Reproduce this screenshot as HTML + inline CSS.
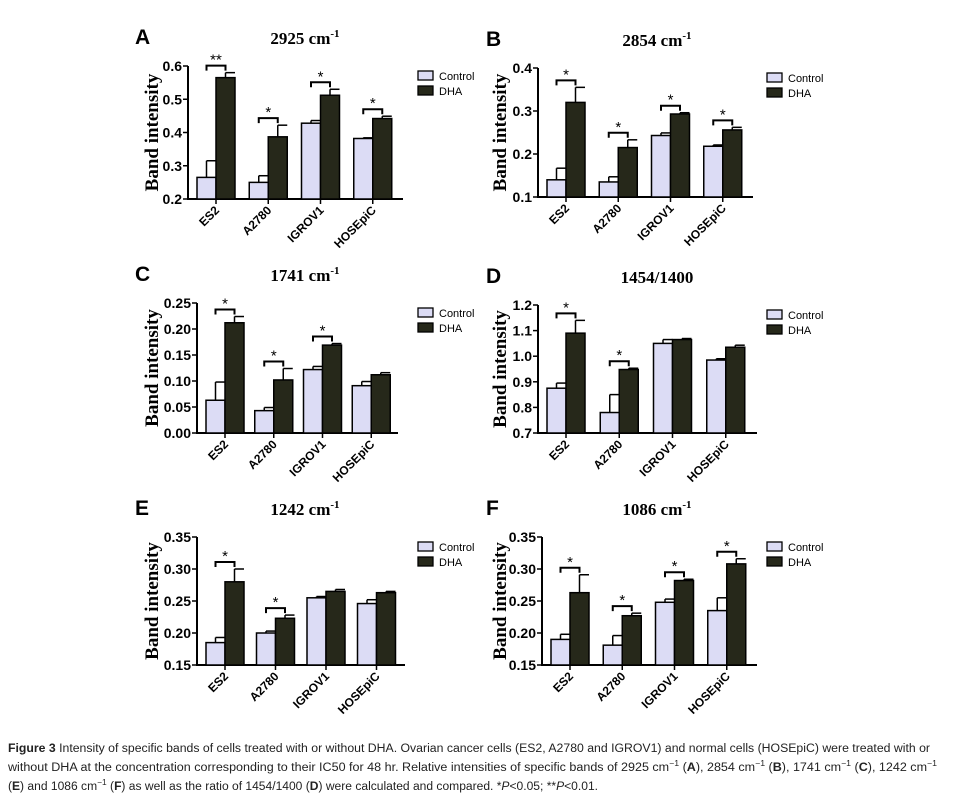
<!DOCTYPE html>
<html><head><meta charset="utf-8"><style>
body{margin:0;background:#fff;}
svg{display:block;}
</style></head><body>
<svg id="fig" width="961" height="804" viewBox="0 0 961 804" xmlns="http://www.w3.org/2000/svg">
<g id="panels"></g>
<g font-family="Liberation Sans, sans-serif" font-size="11.5" fill="#222">
<text x="8" y="752" textLength="922" lengthAdjust="spacingAndGlyphs"><tspan font-weight="bold">Figure 3</tspan> Intensity of specific bands of cells treated with or without DHA. Ovarian cancer cells (ES2, A2780 and IGROV1) and normal cells (HOSEpiC) were treated with or</text>
<text x="8" y="771" textLength="929" lengthAdjust="spacingAndGlyphs">without DHA at the concentration corresponding to their IC50 for 48 hr. Relative intensities of specific bands of 2925 cm<tspan dy="-5" font-size="8">−1</tspan><tspan dy="5"> (</tspan><tspan font-weight="bold">A</tspan>), 2854 cm<tspan dy="-5" font-size="8">−1</tspan><tspan dy="5"> (</tspan><tspan font-weight="bold">B</tspan>), 1741 cm<tspan dy="-5" font-size="8">−1</tspan><tspan dy="5"> (</tspan><tspan font-weight="bold">C</tspan>), 1242 cm<tspan dy="-5" font-size="8">−1</tspan></text>
<text x="8" y="790" textLength="590" lengthAdjust="spacingAndGlyphs">(<tspan font-weight="bold">E</tspan>) and 1086 cm<tspan dy="-5" font-size="8">−1</tspan><tspan dy="5"> (</tspan><tspan font-weight="bold">F</tspan>) as well as the ratio of 1454/1400 (<tspan font-weight="bold">D</tspan>) were calculated and compared. *<tspan font-style="italic">P</tspan>&lt;0.05; **<tspan font-style="italic">P</tspan>&lt;0.01.</text>
</g>
</svg>
<script>
const categories = ["ES2","A2780","IGROV1","HOSEpiC"];
const ctrlA = [0.265,0.25,0.428,0.382], ctrlErrA = [0.05,0.02,0.008,0.002];
const dhaA = [0.565,0.387,0.512,0.442], dhaErrA = [0.015,0.035,0.018,0.007];
const sigA = ["**","*","*","*"];
const ticksA = ["0.2","0.3","0.4","0.5","0.6"];
const ctrlB = [0.14,0.135,0.243,0.218], ctrlErrB = [0.027,0.012,0.006,0.003];
const dhaB = [0.32,0.215,0.293,0.256], dhaErrB = [0.035,0.018,0.003,0.006];
const sigB = ["*","*","*","*"];
const ticksB = ["0.1","0.2","0.3","0.4"];
const ctrlC = [0.063,0.043,0.122,0.091], ctrlErrC = [0.035,0.006,0.006,0.008];
const dhaC = [0.212,0.102,0.169,0.112], dhaErrC = [0.012,0.022,0.003,0.004];
const sigC = ["*","*","*",""];
const ticksC = ["0.00","0.05","0.10","0.15","0.20","0.25"];
const ctrlD = [0.875,0.78,1.05,0.985], ctrlErrD = [0.02,0.07,0.015,0.005];
const dhaD = [1.09,0.948,1.065,1.035], dhaErrD = [0.05,0.005,0.004,0.008];
const sigD = ["*","*","",""];
const ticksD = ["0.7","0.8","0.9","1.0","1.1","1.2"];
const ctrlE = [0.185,0.2,0.255,0.246], ctrlErrE = [0.008,0.003,0.002,0.006];
const dhaE = [0.28,0.223,0.265,0.263], dhaErrE = [0.02,0.005,0.003,0.002];
const sigE = ["*","*","",""];
const ticksE = ["0.15","0.20","0.25","0.30","0.35"];
const ctrlF = [0.19,0.181,0.248,0.235], ctrlErrF = [0.008,0.015,0.005,0.02];
const dhaF = [0.263,0.227,0.282,0.308], dhaErrF = [0.028,0.004,0.002,0.008];
const sigF = ["*","*","*","*"];
const ticksF = ["0.15","0.20","0.25","0.30","0.35"];

const NS="http://www.w3.org/2000/svg";
const root=document.getElementById('panels');
function mk(tag,attrs,parent,txt){const e=document.createElementNS(NS,tag);for(const k in attrs)e.setAttribute(k,attrs[k]);if(txt!==undefined)e.textContent=txt;parent.appendChild(e);return e;}

const panels=[
 {id:"a",L:"A",col:0,title:"2925 cm",sup:"-1",ax:188,right:403,top:66,bot:199,ctrl:ctrlA,ce:ctrlErrA,dha:dhaA,de:dhaErrA,sig:sigA,ticks:ticksA},
 {id:"b",L:"B",col:1,title:"2854 cm",sup:"-1",ax:538,right:753,top:68,bot:197,ctrl:ctrlB,ce:ctrlErrB,dha:dhaB,de:dhaErrB,sig:sigB,ticks:ticksB},
 {id:"c",L:"C",col:0,title:"1741 cm",sup:"-1",ax:197,right:398,top:303,bot:433,ctrl:ctrlC,ce:ctrlErrC,dha:dhaC,de:dhaErrC,sig:sigC,ticks:ticksC},
 {id:"d",L:"D",col:1,title:"1454/1400",sup:"",ax:538,right:757,top:305,bot:433,ctrl:ctrlD,ce:ctrlErrD,dha:dhaD,de:dhaErrD,sig:sigD,ticks:ticksD},
 {id:"e",L:"E",col:0,title:"1242 cm",sup:"-1",ax:197,right:405,top:537,bot:665,ctrl:ctrlE,ce:ctrlErrE,dha:dhaE,de:dhaErrE,sig:sigE,ticks:ticksE},
 {id:"f",L:"F",col:1,title:"1086 cm",sup:"-1",ax:542,right:757,top:537,bot:665,ctrl:ctrlF,ce:ctrlErrF,dha:dhaF,de:dhaErrF,sig:sigF,ticks:ticksF}
];
const colX=[{letter:135,title:305,ytitle:152,legend:418},{letter:486,title:657,ytitle:500,legend:767}];

panels.forEach(p=>{
 const C=colX[p.col];
 const g=mk('g',{},root);
 
 
 const tv=p.ticks.map(Number);
 const ymin=tv[0], ymax=tv[tv.length-1];
 const y=v=>p.bot-(v-ymin)/(ymax-ymin)*(p.bot-p.top);
 const W=p.right-p.ax, pitch=(W-6)/4, bw=19, x0=p.ax+9;
 const letter=mk('text',{x:C.letter,y:p.top-22,'font-family':'Liberation Sans, sans-serif','font-weight':'bold','font-size':21},g,p.L);
 
 
 const t=mk('text',{x:C.title,y:p.top-22,'text-anchor':'middle','font-family':'Liberation Serif, serif','font-weight':'bold','font-size':17},g);
 
 
 mk('tspan',{},t,p.title);
 if(p.sup) mk('tspan',{dy:-7,'font-size':11},t,p.sup);
 const yl=mk('text',{transform:`translate(${C.ytitle+6},${(p.top+p.bot)/2}) rotate(-90)`,'text-anchor':'middle','font-family':'Liberation Serif, serif','font-weight':'bold','font-size':19},g,'Band intensity');
 
 
 const ya=mk('line',{x1:p.ax,y1:p.top,x2:p.ax,y2:p.bot,stroke:'#000','stroke-width':2},g);
 
 
 const xa=mk('line',{x1:p.ax-1,y1:p.bot,x2:p.right,y2:p.bot,stroke:'#000','stroke-width':2},g);
 
 
 p.ticks.forEach((lab,i)=>{
  const yy=y(tv[i]);
  mk('line',{x1:p.ax-5,y1:yy,x2:p.ax,y2:yy,stroke:'#000','stroke-width':1.5},g);
  const tl=mk('text',{x:p.ax-6,y:yy+5,'text-anchor':'end','font-family':'Liberation Sans, sans-serif','font-weight':'bold','font-size':14},g,lab);
  
  
 });
 categories.forEach((c,i)=>{
  const gx=x0+i*pitch;
  const yc=y(p.ctrl[i]), yd=y(p.dha[i]);
  const yce=y(p.ctrl[i]+p.ce[i]), yde=y(p.dha[i]+p.de[i]);
  mk('line',{x1:gx+bw/2,y1:yc,x2:gx+bw/2,y2:yce,stroke:'#000','stroke-width':1.5},g);
  mk('line',{x1:gx+bw/2,y1:yce,x2:gx+bw,y2:yce,stroke:'#000','stroke-width':1.5},g);
  mk('line',{x1:gx+bw*1.5,y1:yd,x2:gx+bw*1.5,y2:yde,stroke:'#000','stroke-width':1.5},g);
  mk('line',{x1:gx+bw*1.5,y1:yde,x2:gx+bw*2,y2:yde,stroke:'#000','stroke-width':1.5},g);
  const b1=mk('rect',{x:gx,y:yc,width:bw,height:p.bot-yc,fill:'#dcdcf5',stroke:'#000','stroke-width':1.5},g);
  
  
  const b2=mk('rect',{x:gx+bw,y:yd,width:bw,height:p.bot-yd,fill:'#26281a',stroke:'#000','stroke-width':1.5},g);
  
  
  mk('line',{x1:gx+bw,y1:p.bot,x2:gx+bw,y2:p.bot+5,stroke:'#000','stroke-width':1.5},g);
  const cl=mk('text',{transform:`translate(${gx+bw+4},${p.bot+12}) rotate(-45)`,'text-anchor':'end','font-family':'Liberation Sans, sans-serif','font-weight':'bold','font-size':12},g,c);
  
  
  if(p.sig[i]){
   const by=Math.min(yce,yde)-7;
   const bg=mk('g',{},g);
   
   
   mk('polyline',{points:`${gx+bw/2},${by+5} ${gx+bw/2},${by} ${gx+bw*1.5},${by} ${gx+bw*1.5},${by+5}`,fill:'none',stroke:'#000','stroke-width':2},bg);
   mk('text',{x:gx+bw,y:by-1,'text-anchor':'middle','font-family':'Liberation Sans, sans-serif','font-size':15},bg,p.sig[i]);
  }
 });
 const lg=mk('g',{},g);
 
 
 const lx=C.legend, ly=p.top+5;
 mk('rect',{x:lx,y:ly,width:15,height:9,fill:'#dcdcf5',stroke:'#000','stroke-width':1.3},lg);
 mk('text',{x:lx+21,y:ly+9,'font-family':'Liberation Sans, sans-serif','font-size':11},lg,'Control');
 mk('rect',{x:lx,y:ly+15,width:15,height:9,fill:'#26281a',stroke:'#000','stroke-width':1.3},lg);
 mk('text',{x:lx+21,y:ly+24,'font-family':'Liberation Sans, sans-serif','font-size':11},lg,'DHA');
});
</script>
</body></html>
